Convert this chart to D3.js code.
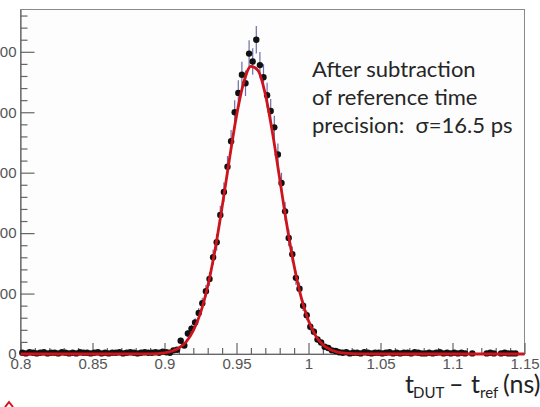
<!DOCTYPE html>
<html>
<head>
<meta charset="utf-8">
<script src="https://cdn.jsdelivr.net/npm/d3@7"></script>
<style>
  body { margin: 0; background: #fff; }
  svg { display: block; }
</style>
</head>
<body>
<div id="chart"></div>
<script>
// histogram binning (ns)
const binStart = 0.8;
const binWidth = 0.0025;

// counts per bin, 140 bins from 0.8 to 1.15 ns
const counts = [
  2, 1, 3, 2, 1, 2, 3, 1, 2, 2, 1, 3, 2, 1, 2, 1, 3, 2, 2, 1,
  2, 3, 1, 2, 1, 2, 2, 3, 1, 2, 3, 2, 1, 2, 3, 2, 2, 3, 2, 4,
  3, 2, 6, 7, 22, 14, 34, 42, 52, 68, 84, 104, 124, 160, 185, 230, 268, 310, 352, 400,
  432, 462, 448, 497, 484, 520, 478, 458, 428, 402, 375, 330, 283, 236, 192, 165, 126, 108, 80, 64,
  45, 37, 24, 19, 12, 10, 6, 5, 3,
  2, 3, 1, 2, 2, 1, 3, 2, 1, 2, 2, 1, 2, 3, 1, 2, 1, 2, 2, 1,
  3, 2, 1, 1, 2, 1, 2, 3, 1, 2, 1, 2, 1, 2, 1,
  0, 1, 0, 0, 0,
  1, 2, 1, 0, 1, 2, 1, 1, 1,
  0, 0
];

// gaussian fit curve
const fitX = [0.8, 0.86, 0.88, 0.89, 0.9, 0.905, 0.91, 0.915, 0.92, 0.925, 0.93, 0.935, 0.94, 0.945,
  0.95, 0.955, 0.96, 0.965, 0.97, 0.975, 0.98, 0.985, 0.99, 0.995, 1.0, 1.005, 1.01, 1.015,
  1.02, 1.025, 1.03, 1.04, 1.06, 1.15];
const fitY = [0, 0, 0.1, 0.3, 1.9, 4.5, 9.9, 20, 38.6, 68, 112, 171, 243, 321,
  394, 449, 476, 469, 430, 366, 290, 213, 146, 93, 55, 30, 15.4, 7.3,
  3.2, 1.3, 0.5, 0.05, 0, 0];

const xTicks = [0.8, 0.85, 0.9, 0.95, 1.0, 1.05, 1.1, 1.15];
const xTickLabels = ["0.8", "0.85", "0.9", "0.95", "1", "1.05", "1.1", "1.15"];
const yTicks = [0, 100, 200, 300, 400, 500];
const yTickLabels = ["0", "100", "200", "300", "400", "500"];

const noteLines = ["After subtraction", "of reference time", "precision:  \u03c3=16.5 ps"];

const width = 540, height = 407;
const margin = { top: 9.5, right: 15.5, bottom: 53, left: 20.5 };

const svg = d3.select("#chart").append("svg")
  .attr("width", width)
  .attr("height", height);

const x = d3.scaleLinear()
  .domain([0.8, 1.15])
  .range([margin.left, width - margin.right]);

const y = d3.scaleLinear()
  .domain([0, 570])
  .range([height - margin.bottom, margin.top]);

// plot frame
svg.append("rect")
  .attr("x", margin.left)
  .attr("y", margin.top)
  .attr("width", width - margin.right - margin.left)
  .attr("height", height - margin.bottom - margin.top)
  .attr("fill", "#fdfdfd")
  .attr("stroke", "#8a8a8a")
  .attr("stroke-width", 1);

// axes
const axisColor = "#666";
const x0 = y(0);

const xMinor = d3.range(80, 116).map(d => d / 100).filter(d => Math.round(d * 100) % 5 !== 0);
svg.append("g")
  .attr("transform", `translate(0,${x0})`)
  .call(d3.axisBottom(x).tickValues(xMinor).tickSize(-6).tickSizeOuter(0).tickFormat(""))
  .call(g => g.select(".domain").remove());

svg.append("g")
  .attr("transform", `translate(0,${x0})`)
  .call(d3.axisBottom(x).tickValues(xTicks).tickSize(-11).tickSizeOuter(0).tickPadding(4)
    .tickFormat((d, i) => xTickLabels[i]))
  .call(g => g.selectAll("text").attr("dy", "0.71em"));

const yMinor = d3.range(0, 570, 20).filter(d => d % 100 !== 0);
svg.append("g")
  .attr("transform", `translate(${margin.left},0)`)
  .call(d3.axisLeft(y).tickValues(yMinor).tickSize(-7).tickSizeOuter(0).tickFormat(""))
  .call(g => g.select(".domain").remove());

svg.append("g")
  .attr("transform", `translate(${margin.left},0)`)
  .call(d3.axisLeft(y).tickValues(yTicks).tickSize(-14).tickSizeOuter(0).tickPadding(4)
    .tickFormat((d, i) => yTickLabels[i]));

svg.selectAll(".domain, .tick line").attr("stroke", axisColor).attr("stroke-width", 1.2);
svg.selectAll(".tick text")
  .attr("fill", "#555")
  .style("font-family", "'Liberation Sans', Arial, sans-serif")
  .style("font-size", "15px");

// histogram points
const bins = counts.map((c, i) => ({ x: binStart + binWidth * (i + 0.5), n: c }))
  .filter(d => d.n > 0);

svg.append("g")
  .selectAll("line")
  .data(bins)
  .join("line")
  .attr("x1", d => x(d.x))
  .attr("x2", d => x(d.x))
  .attr("y1", d => y(d.n - Math.sqrt(d.n)))
  .attr("y2", d => y(d.n + Math.sqrt(d.n)))
  .attr("stroke", "#6a6fa8")
  .attr("stroke-width", 1.2);

svg.append("g")
  .selectAll("circle")
  .data(bins)
  .join("circle")
  .attr("cx", d => x(d.x))
  .attr("cy", d => y(d.n))
  .attr("r", 3.2)
  .attr("fill", "#111");

// fit
const line = d3.line()
  .x((d, i) => x(fitX[i]))
  .y(d => y(d))
  .curve(d3.curveMonotoneX);

svg.append("path")
  .attr("d", line(fitY))
  .attr("fill", "none")
  .attr("stroke", "#cc141c")
  .attr("stroke-width", 2.8);

// annotation
svg.append("g")
  .selectAll("text")
  .data(noteLines)
  .join("text")
  .attr("x", 312)
  .attr("y", (d, i) => 77 + i * 28)
  .attr("fill", "#262626")
  .style("font-family", "Lato, 'Open Sans', sans-serif")
  .style("font-size", "22px")
  .style("white-space", "pre")
  .text(d => d);

// x axis title: t_DUT - t_ref (ns)
const title = svg.append("text")
  .attr("y", 393)
  .attr("fill", "#222")
  .style("font-family", "Lato, 'Open Sans', sans-serif")
  .style("font-size", "25px");
title.append("tspan").attr("x", 405).text("t");
title.append("tspan").attr("x", 413).attr("dy", 5).style("font-size", "15px").text("DUT");
title.append("tspan").attr("x", 449).attr("dy", -5).text("\u2013");
title.append("tspan").attr("x", 471).text("t");
title.append("tspan").attr("x", 480).attr("dy", 5).style("font-size", "15px").text("ref");
title.append("tspan").attr("x", 503).attr("dy", -5).text("(ns)");

// stray red mark in the lower-left corner of the slide
svg.append("path")
  .attr("d", "M5,407 L9,402 L13,407")
  .attr("fill", "none")
  .attr("stroke", "#d2141c")
  .attr("stroke-width", 2);
</script>
</body>
</html>
